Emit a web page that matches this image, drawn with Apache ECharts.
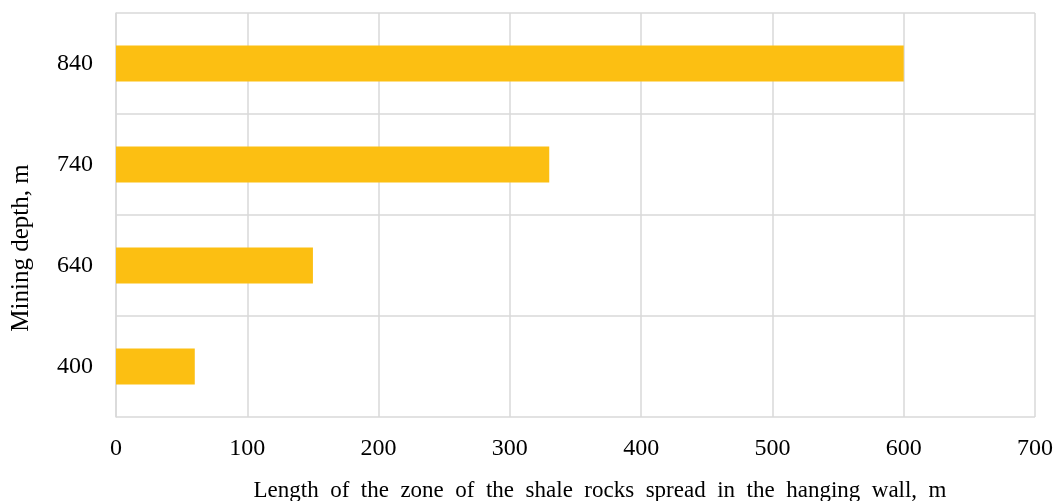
<!DOCTYPE html>
<html>
<head>
<meta charset="utf-8">
<script src="https://cdn.jsdelivr.net/npm/echarts@6/dist/echarts.min.js"></script>
<style>html,body{margin:0;padding:0;background:#fff}#c{width:1056px;height:501px}</style>
</head>
<body>
<div id="c"></div>
<script>
const categories = ['400', '640', '740', '840'];
const values = [60, 150, 330, 600];
const xTicks = [0, 100, 200, 300, 400, 500, 600, 700];

const font = 'Liberation Serif, Times New Roman, serif';
const chart = echarts.init(document.getElementById('c'));
chart.setOption({
  animation: false,
  grid: { left: 116, right: 21, top: 13, bottom: 84, containLabel: false, outerBoundsMode: 'none' },
  xAxis: {
    type: 'value', min: xTicks[0], max: xTicks[xTicks.length - 1], interval: 100,
    name: 'Length  of  the  zone  of  the  shale  rocks  spread  in  the  hanging  wall,  m',
    nameLocation: 'middle', nameGap: 62,
    nameTextStyle: { fontFamily: font, fontSize: 23, color: '#000', padding: [0, 0, 0, 49] },
    axisLine: { show: false }, axisTick: { show: false },
    axisLabel: { fontFamily: font, fontSize: 24, color: '#000', margin: 20 },
    splitLine: { show: true, lineStyle: { color: '#d9d9d9', width: 1.5 } }
  },
  yAxis: {
    type: 'category', data: categories,
    name: 'Mining depth, m', nameLocation: 'middle', nameGap: 82,
    nameTextStyle: { fontFamily: font, fontSize: 25, color: '#000', padding: [0, 66, 0, 0] },
    axisLine: { show: true, lineStyle: { color: '#d9d9d9', width: 1.5 } },
    axisTick: { show: false },
    axisLabel: { fontFamily: font, fontSize: 24, color: '#000', margin: 23 },
    splitLine: { show: true, lineStyle: { color: '#d9d9d9', width: 1.5 } }
  },
  series: [{
    type: 'bar', data: values, barWidth: 36,
    itemStyle: { color: '#FCBF12' }
  }]
});
</script>
</body>
</html>
